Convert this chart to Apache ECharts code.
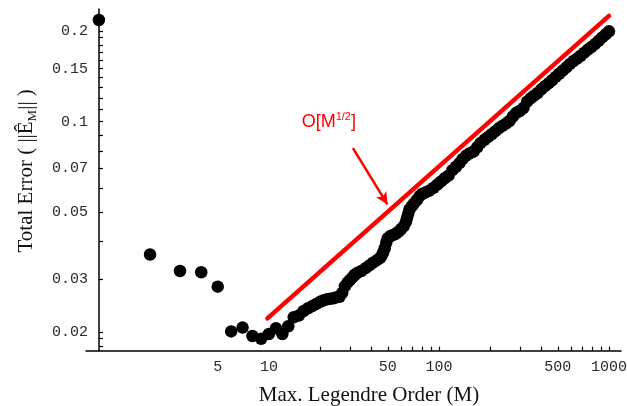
<!DOCTYPE html>
<html>
<head>
<meta charset="utf-8">
<script src="https://cdn.jsdelivr.net/npm/echarts@6/dist/echarts.min.js"></script>
<style>
  html, body { margin: 0; padding: 0; background: #ffffff; }
  #chart { width: 627px; height: 406px; }
</style>
</head>
<body>
<div id="chart"></div>
<script>
// Legendre order M and the total error at that order
const orders = [
  1, 2, 3, 4, 5, 6, 7, 8, 9, 10, 11, 12, 13,
  14, 15, 16, 17, 18, 19, 20, 21, 22, 23, 24, 25, 26, 27, 28, 29, 30,
  31, 32, 33, 35, 37, 39, 41, 43, 45, 46, 47, 48, 49, 50,
  52, 54, 56, 58, 60, 62, 64, 65, 66, 67, 69, 71, 74, 77, 80, 84, 88, 93, 98,
  103, 108, 114, 120, 126, 132, 138, 145, 152, 160, 168, 176, 185, 194,
  204, 214, 225, 236, 248, 260, 272, 285, 299, 314, 330, 346, 363, 381,
  400, 420, 441, 463, 486, 510, 535, 562, 590, 619, 650, 682, 716, 752,
  789, 828, 869, 912, 957, 1000
];
const totalError = [
  0.2176, 0.0362, 0.0319, 0.0316, 0.0283, 0.0201, 0.0207, 0.0194, 0.0190, 0.0197, 0.0206, 0.0197, 0.0209,
  0.0224, 0.0227, 0.0235, 0.0240, 0.0244, 0.0248, 0.0252, 0.0255, 0.0257, 0.0258, 0.0259, 0.0261, 0.0262, 0.0270, 0.0284, 0.0292, 0.0298,
  0.0304, 0.0310, 0.0314, 0.0319, 0.0326, 0.0333, 0.0340, 0.0346, 0.0352, 0.0358, 0.0368, 0.0380, 0.0396, 0.0410,
  0.0417, 0.0421, 0.0425, 0.0431, 0.0440, 0.0449, 0.0465, 0.0480, 0.0495, 0.0510, 0.0522, 0.0533, 0.0548, 0.0566, 0.0576, 0.0583, 0.0590, 0.0603, 0.0618,
  0.0633, 0.0648, 0.0662, 0.0690, 0.0708, 0.0728, 0.0752, 0.0772, 0.0785, 0.0796, 0.0822, 0.0850, 0.0870, 0.0888,
  0.0908, 0.0928, 0.0950, 0.0968, 0.0985, 0.1005, 0.1040, 0.1070, 0.1085, 0.1110, 0.1165, 0.1195, 0.1220, 0.1245,
  0.1280, 0.1312, 0.1340, 0.1372, 0.1408, 0.1442, 0.1478, 0.1515, 0.1555, 0.1590, 0.1620, 0.1655, 0.1695, 0.1735,
  0.1770, 0.1810, 0.1855, 0.1905, 0.1950, 0.1995
];

// Reference slope O[M^(1/2)], drawn between its two end points
const refOrders = [9.8, 1000];
const refError = [0.0222, 0.2245];

// Axis ticks and labels
const xLabelValues = [5, 10, 50, 100, 500, 1000];
const xTickValues = [20, 30, 40, 50, 60, 70, 80, 90, 100, 200, 300, 400, 500, 600, 700, 800, 900, 1000];
const yLabelValues = [0.02, 0.03, 0.05, 0.07, 0.1, 0.15, 0.2];
const yTickValues = [0.018, 0.019, 0.02, 0.03, 0.04, 0.05, 0.06, 0.07, 0.08, 0.09, 0.1,
  0.11, 0.12, 0.13, 0.14, 0.15, 0.16, 0.17, 0.18, 0.19, 0.2];

const errorPoints = orders.map((m, i) => [m, totalError[i]]);
const refPoints = refOrders.map((m, i) => [m, refError[i]]);

const X_MIN = 0.84, X_MAX = 1177;
const Y_MIN = 0.01734, Y_MAX = 0.2367;

const fmt = v => String(parseFloat(Number(v).toPrecision(6)));
const monoLabel = { fontFamily: 'Liberation Mono', fontSize: 15, color: '#2a2a2a' };
const axisLine = { show: true, onZero: false, lineStyle: { color: '#000', width: 1.5 } };
const tickLine = { color: '#000', width: 1.2 };

const chart = echarts.init(document.getElementById('chart'), null, { renderer: 'canvas' });
chart.setOption({
  animation: false,
  backgroundColor: '#ffffff',
  grid: { left: 86, right: 6, top: 9, bottom: 55.3, containLabel: false, outerBoundsMode: 'none' },
  xAxis: {
    type: 'log', logBase: 10, min: X_MIN, max: X_MAX, position: 'bottom',
    axisLine: axisLine,
    axisTick: { show: true, inside: true, length: 4, customValues: xTickValues, lineStyle: tickLine },
    axisLabel: Object.assign({ customValues: xLabelValues, formatter: fmt, margin: 9 }, monoLabel),
    splitLine: { show: false },
    name: 'Max. Legendre Order (M)', nameLocation: 'middle', nameGap: 34,
    nameTextStyle: { fontFamily: 'Liberation Serif', fontSize: 21, color: '#111', padding: [0, 0, 0, 31] }
  },
  yAxis: {
    type: 'log', logBase: 10, min: Y_MIN, max: Y_MAX, position: 'left', offset: -13,
    axisLine: axisLine,
    axisTick: { show: true, inside: true, length: 4, customValues: yTickValues, lineStyle: tickLine },
    axisLabel: Object.assign({ customValues: yLabelValues, formatter: fmt, margin: 11 }, monoLabel),
    splitLine: { show: false },
    name: 'Total Error ( ||Ê{sub|M}|| )', nameLocation: 'middle', nameGap: 60,
    nameTextStyle: {
      fontFamily: 'Liberation Serif', fontSize: 21, color: '#111', lineHeight: 26,
      padding: [0, 0, 0, 18],
      rich: {
        sub: { fontFamily: 'Liberation Serif', fontSize: 13, lineHeight: 13, verticalAlign: 'bottom', color: '#111' }
      }
    }
  },
  series: [
    {
      name: 'Total Error',
      type: 'scatter',
      data: errorPoints,
      symbol: 'circle',
      symbolSize: 12.5,
      itemStyle: { color: '#000000', opacity: 1 },
      z: 2
    },
    {
      name: 'O[M^1/2]',
      type: 'line',
      data: refPoints,
      symbol: 'none',
      lineStyle: { color: '#ff0000', width: 4.5, cap: 'round' },
      z: 3,
      markLine: {
        silent: true,
        symbol: ['none', 'arrow'],
        symbolSize: [9, 12],
        label: { show: false },
        lineStyle: { color: '#ff0000', width: 2.5, type: 'solid' },
        data: [[{ coord: [31.2, 0.0817] }, { coord: [49.8, 0.0531] }]]
      },
      markPoint: {
        silent: true,
        symbol: 'circle',
        symbolSize: 1,
        itemStyle: { color: 'rgba(0,0,0,0)' },
        label: {
          show: true,
          position: 'inside',
          formatter: '{a|O[M}{b|1/2}{a|]}',
          rich: {
            a: { fontFamily: 'Liberation Sans', fontSize: 18, lineHeight: 22, color: '#ff0000' },
            b: { fontFamily: 'Liberation Sans', fontSize: 11, lineHeight: 11, verticalAlign: 'top', color: '#ff0000' }
          }
        },
        data: [{ coord: [22.5, 0.0997] }]
      }
    }
  ]
});
</script>
</body>
</html>
